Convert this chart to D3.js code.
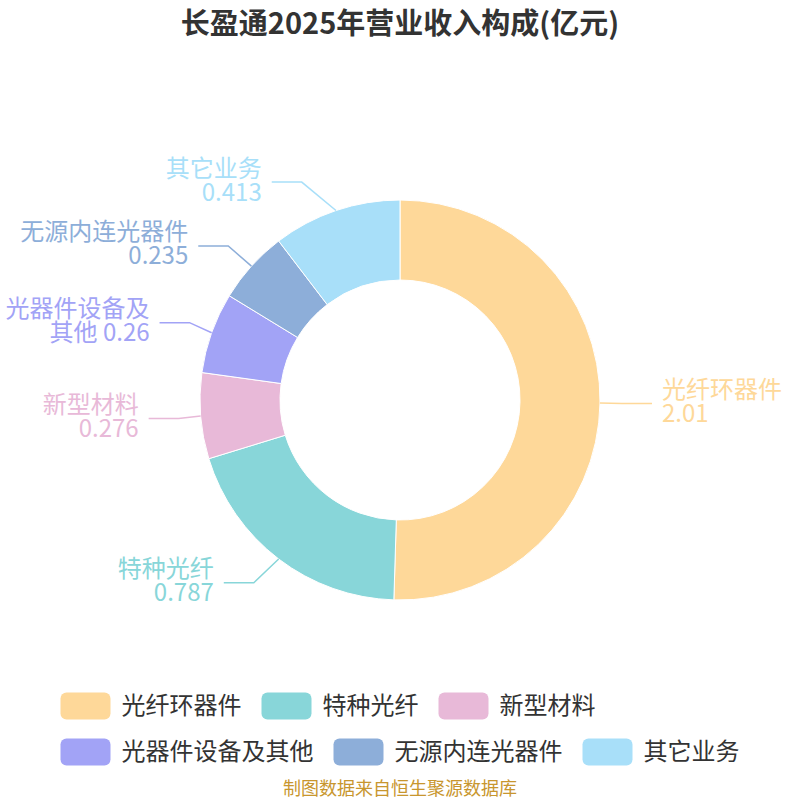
<!DOCTYPE html>
<html>
<head>
<meta charset="utf-8">
<script src="https://cdn.jsdelivr.net/npm/d3@7"></script>
<style>
  body { margin: 0; background: #fff; }
  text { font-family: "Noto Sans CJK SC", "Noto Sans", sans-serif; }
</style>
</head>
<body>
<div id="chart-area"></div>
<script>
// data (亿元)
var names = ["光纤环器件", "特种光纤", "新型材料", "光器件设备及其他", "无源内连光器件", "其它业务"];
var values = [2.01, 0.787, 0.276, 0.26, 0.235, 0.413];
var colors = ["#fed899", "#88d6d9", "#e8b9d8", "#a2a3f6", "#8daed9", "#a8dff9"];

var titleText = "长盈通2025年营业收入构成(亿元)";
var sourceText = "制图数据来自恒生聚源数据库";

var W = 800, H = 800;
var cx = 400, cy = 400;
var outerR = 200, innerR = 120;
// label line: elbow sits on an ellipse round the donut (echarts-like layout)
var elbowRy = 30, ellA = 22, ellB = 43;
var len2 = 30, gap = 10;
var fontSize = 24, lineH = 24;

var svg = d3.select("#chart-area")
    .append("svg")
    .attr("width", W)
    .attr("height", H);

// title
svg.append("text")
  .attr("x", W / 2)
  .attr("y", 24)
  .attr("dy", "0.35em")
  .attr("text-anchor", "middle")
  .attr("font-size", 29)
  .attr("font-weight", "bold")
  .attr("fill", "#333")
  .text(titleText);

var data = names.map(function(n, i) { return { name: n, value: values[i], color: colors[i] }; });

var pie = d3.pie()
  .sort(null)
  .value(function(d) { return d.value; });

var arcs = pie(data);

var arc = d3.arc()
  .innerRadius(innerR)
  .outerRadius(outerR);

var g = svg.append("g")
  .attr("transform", "translate(" + cx + "," + cy + ")");

g.selectAll("path.slice")
  .data(arcs)
  .enter()
  .append("path")
  .attr("class", "slice")
  .attr("d", arc)
  .attr("fill", function(d) { return d.data.color; })
  .attr("stroke", "#fff")
  .attr("stroke-width", 1);

function midAngle(d) { return (d.startAngle + d.endAngle) / 2; }

// wrap the name to the room that is left on that side, value goes below
// (or at the tail of a wrapped name)
function labelLines(name, value, room) {
  var per = Math.max(1, Math.floor(room / fontSize));
  var lines = [];
  for (var i = 0; i < name.length; i += per) lines.push(name.slice(i, i + per));
  if (lines.length > 1) lines[lines.length - 1] += " " + value;
  else lines.push(String(value));
  return lines;
}

arcs.forEach(function(d) {
  var a = midAngle(d);
  var sx = Math.sin(a), sy = -Math.cos(a);
  var dir = sx >= 0 ? 1 : -1;
  var p1 = [sx * outerR, sy * outerR];
  var ey = sy * (outerR + elbowRy);
  var rB = outerR + ellB, rA = outerR + ellA;
  var ex = dir * rA * Math.sqrt(Math.max(0, 1 - (ey * ey) / (rB * rB)));
  var p2 = [ex, ey];
  var p3 = [p2[0] + dir * len2, p2[1]];

  g.append("path")
    .attr("d", d3.line()([p1, p2, p3]))
    .attr("fill", "none")
    .attr("stroke", d.data.color)
    .attr("stroke-width", 1.5);

  var tx = p3[0] + dir * gap;
  var room = dir > 0 ? (W - cx) - tx - 4 : (cx + tx) - 4;
  var lines = labelLines(d.data.name, d.data.value, room);
  var t = g.append("text")
    .attr("text-anchor", dir > 0 ? "start" : "end")
    .attr("font-size", fontSize)
    .attr("fill", d.data.color);
  var y0 = p3[1] - 2 - (lines.length - 1) * lineH / 2;
  lines.forEach(function(l, i) {
    t.append("tspan")
      .attr("x", tx)
      .attr("y", y0 + i * lineH)
      .attr("dy", "0.35em")
      .text(l);
  });
});

// legend
var swW = 50, swH = 27, swGap = 11, itemGap = 20, rowH = 46, maxRow = 720;
var legend = svg.append("g");
var items = data.map(function(d) {
  var tmp = svg.append("text").attr("font-size", fontSize).text(d.name);
  var w = tmp.node().getComputedTextLength();
  tmp.remove();
  return { d: d, w: swW + swGap + w };
});
var rows = [[]], rowW = [0];
items.forEach(function(it) {
  var r = rows.length - 1;
  var add = (rows[r].length ? itemGap : 0) + it.w;
  if (rowW[r] + add > maxRow && rows[r].length) {
    rows.push([]); rowW.push(0); r++;
    add = it.w;
  }
  it.x = rowW[r] + (rows[r].length ? itemGap : 0);
  rows[r].push(it);
  rowW[r] += add;
});
var boxW = d3.max(rowW);
var left = (W - boxW) / 2;
rows.forEach(function(row, ri) {
  var yc = 706 + ri * rowH;
  row.forEach(function(it) {
    legend.append("rect")
      .attr("x", left + it.x)
      .attr("y", yc - swH / 2)
      .attr("width", swW)
      .attr("height", swH)
      .attr("rx", 6)
      .attr("fill", it.d.color);
    legend.append("text")
      .attr("x", left + it.x + swW + swGap)
      .attr("y", yc)
      .attr("dy", "0.35em")
      .attr("font-size", fontSize)
      .attr("fill", "#333")
      .text(it.d.name);
  });
});

// source
svg.append("text")
  .attr("x", W / 2)
  .attr("y", 789)
  .attr("dy", "0.35em")
  .attr("text-anchor", "middle")
  .attr("font-size", 18)
  .attr("fill", "#c8962e")
  .text(sourceText);
</script>
</body>
</html>
